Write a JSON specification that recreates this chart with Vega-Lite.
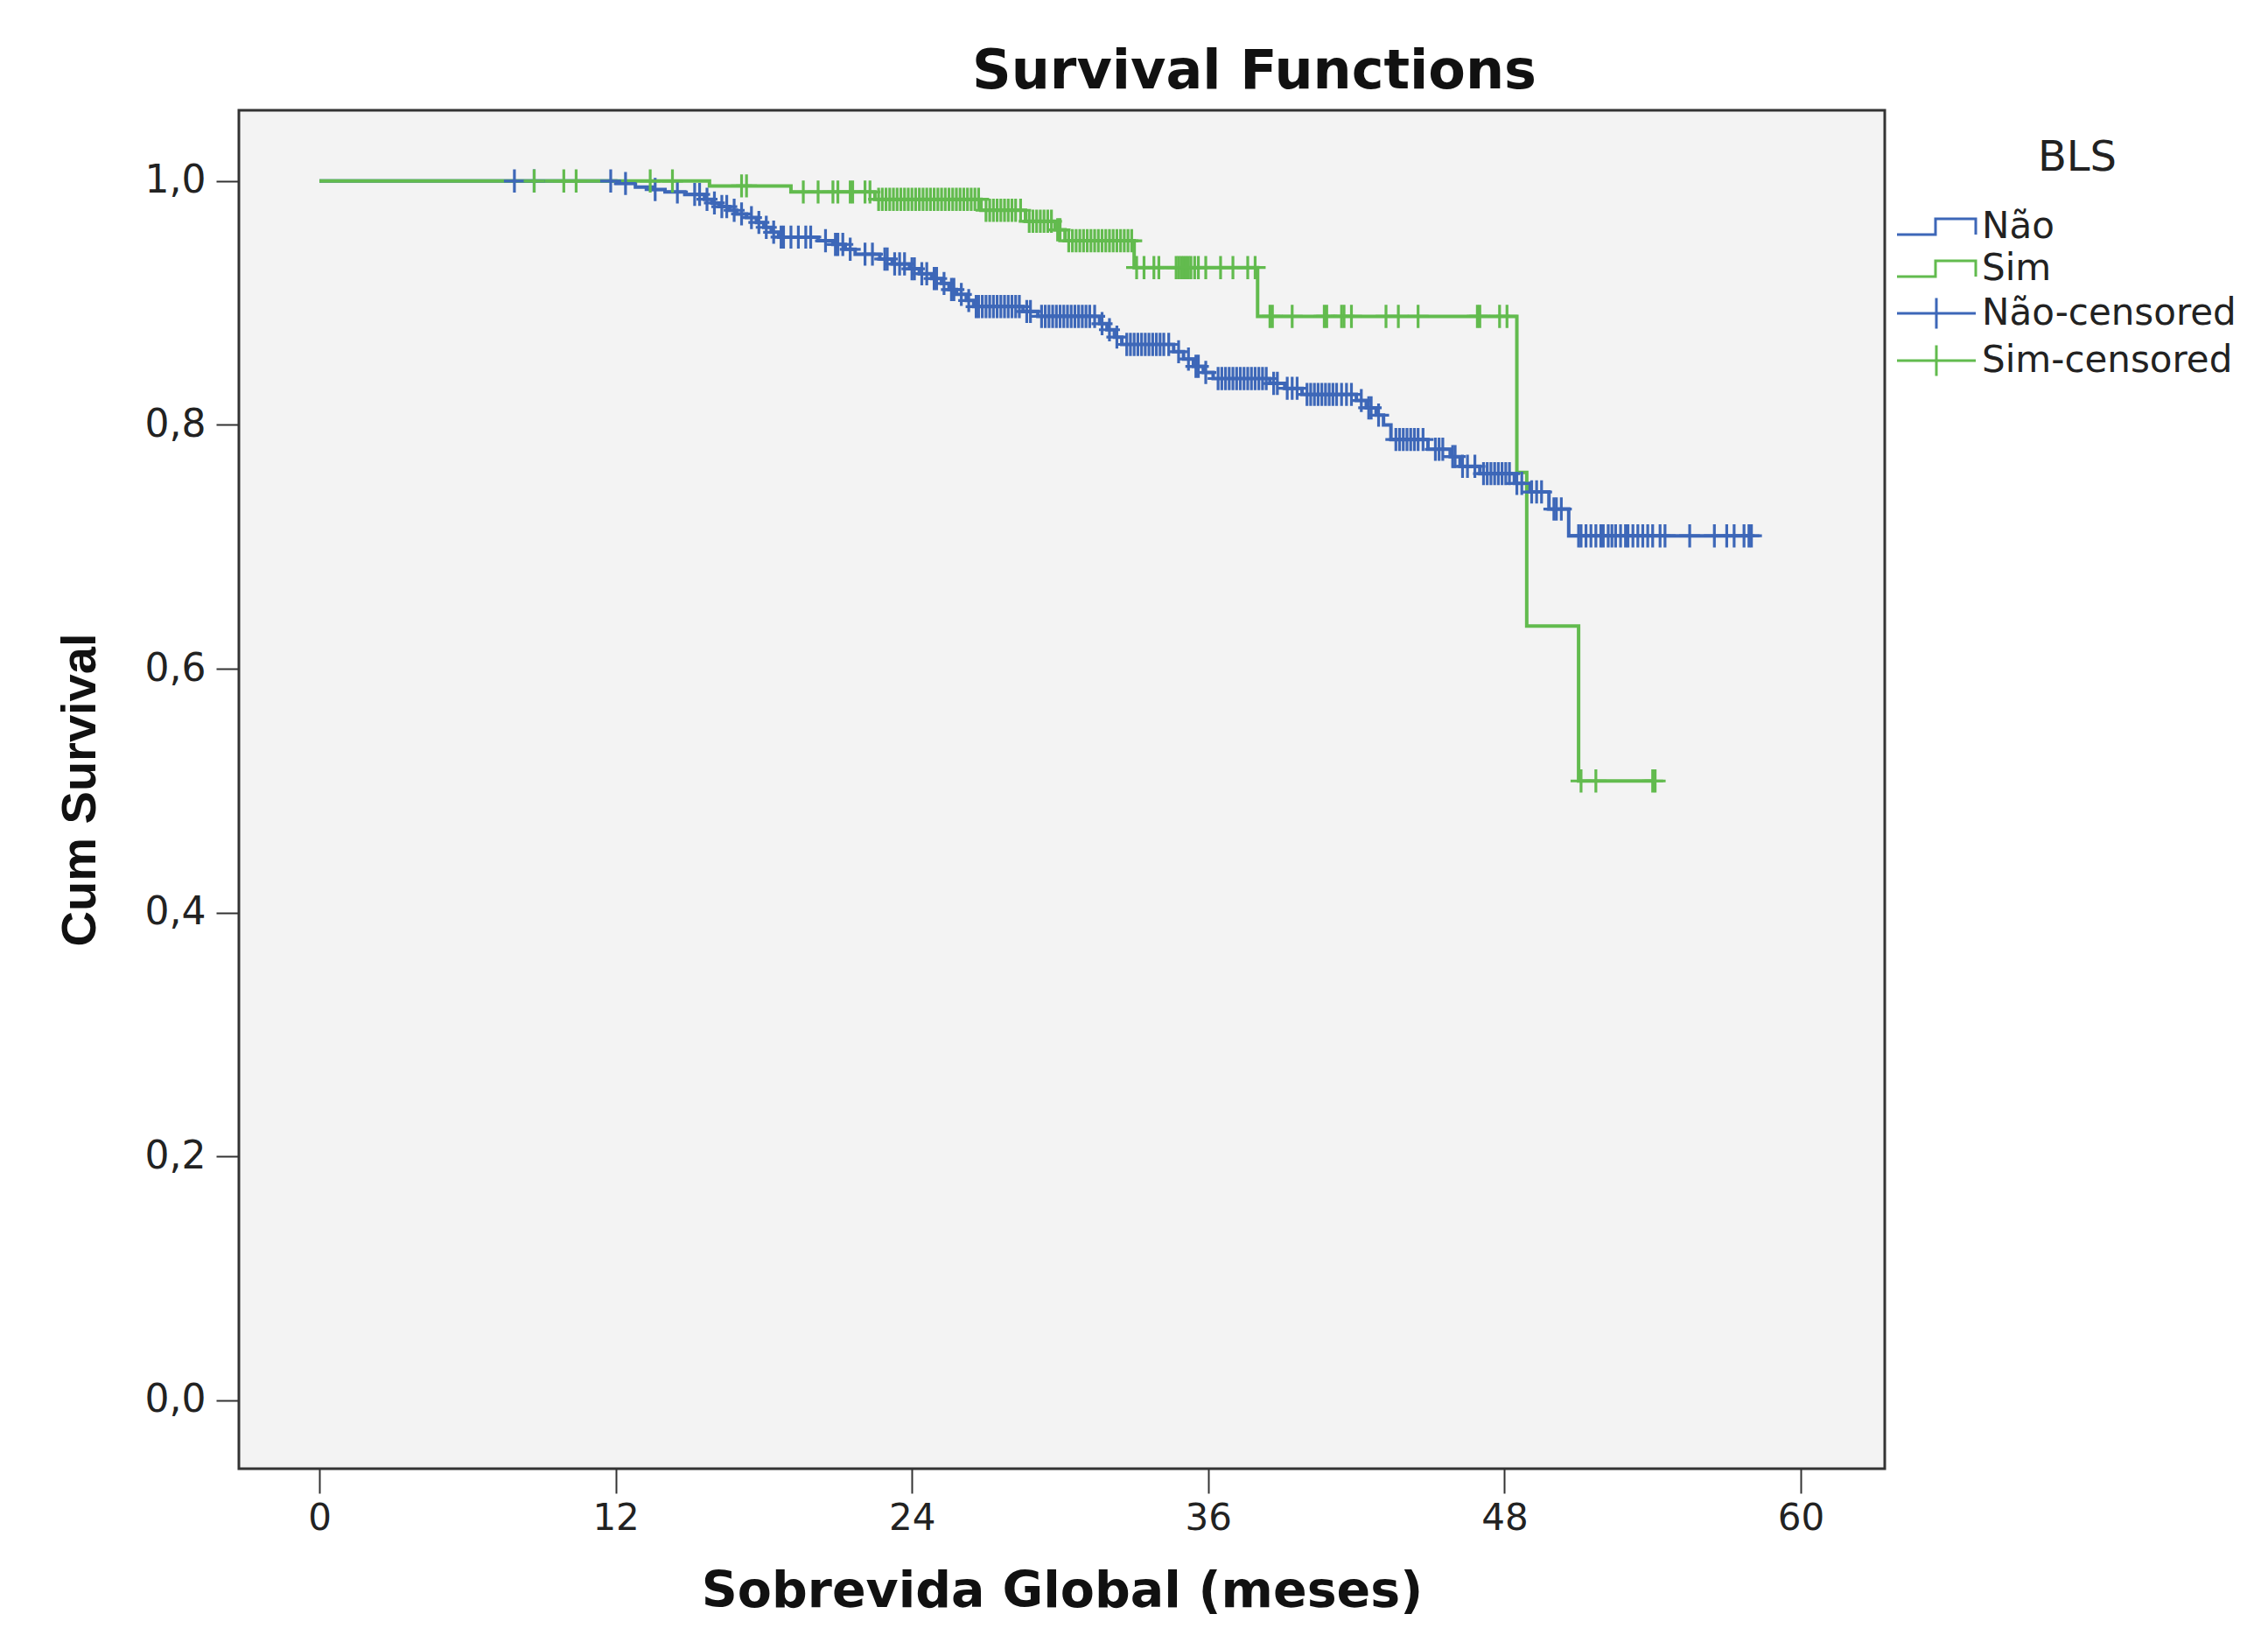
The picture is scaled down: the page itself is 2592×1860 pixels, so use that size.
{
  "$schema": "https://vega.github.io/schema/vega-lite/v6.json",
  "width": 1881,
  "height": 1552,
  "autosize": {"type": "none"},
  "padding": {"left": 273, "top": 126, "right": 438, "bottom": 182},
  "background": "white",
  "config": {
    "font": "DejaVu Sans",
    "view": {"fill": "#F3F3F3", "stroke": "#333333", "strokeWidth": 3}
  },
  "title": {
    "text": "Survival Functions",
    "frame": "group",
    "anchor": "middle",
    "dx": 220,
    "offset": 12,
    "fontSize": 62,
    "fontWeight": "bold",
    "color": "#111111",
    "font": "DejaVu Sans"
  },
  "datasets": {
    "curves": [
      {"grp": "Não", "t": 0, "s": 1.0},
      {"grp": "Não", "t": 12.0, "s": 0.998},
      {"grp": "Não", "t": 12.8, "s": 0.995},
      {"grp": "Não", "t": 13.5, "s": 0.993},
      {"grp": "Não", "t": 14.0, "s": 0.991},
      {"grp": "Não", "t": 14.8, "s": 0.989},
      {"grp": "Não", "t": 15.6, "s": 0.985},
      {"grp": "Não", "t": 15.9, "s": 0.982},
      {"grp": "Não", "t": 16.2, "s": 0.979},
      {"grp": "Não", "t": 16.6, "s": 0.976},
      {"grp": "Não", "t": 16.9, "s": 0.973},
      {"grp": "Não", "t": 17.3, "s": 0.970},
      {"grp": "Não", "t": 17.7, "s": 0.966},
      {"grp": "Não", "t": 18.0, "s": 0.962},
      {"grp": "Não", "t": 18.3, "s": 0.958},
      {"grp": "Não", "t": 18.6, "s": 0.954},
      {"grp": "Não", "t": 20.2, "s": 0.951},
      {"grp": "Não", "t": 20.8, "s": 0.948},
      {"grp": "Não", "t": 21.3, "s": 0.944},
      {"grp": "Não", "t": 21.7, "s": 0.940},
      {"grp": "Não", "t": 22.7, "s": 0.936},
      {"grp": "Não", "t": 23.2, "s": 0.932},
      {"grp": "Não", "t": 23.9, "s": 0.928},
      {"grp": "Não", "t": 24.3, "s": 0.924},
      {"grp": "Não", "t": 24.8, "s": 0.920},
      {"grp": "Não", "t": 25.2, "s": 0.916},
      {"grp": "Não", "t": 25.5, "s": 0.911},
      {"grp": "Não", "t": 25.8, "s": 0.907},
      {"grp": "Não", "t": 26.2, "s": 0.902},
      {"grp": "Não", "t": 26.5, "s": 0.897},
      {"grp": "Não", "t": 28.5, "s": 0.893},
      {"grp": "Não", "t": 29.1, "s": 0.889},
      {"grp": "Não", "t": 31.6, "s": 0.883},
      {"grp": "Não", "t": 31.9, "s": 0.878},
      {"grp": "Não", "t": 32.2, "s": 0.872},
      {"grp": "Não", "t": 32.5, "s": 0.866},
      {"grp": "Não", "t": 34.6, "s": 0.860},
      {"grp": "Não", "t": 35.0, "s": 0.854},
      {"grp": "Não", "t": 35.4, "s": 0.848},
      {"grp": "Não", "t": 35.8, "s": 0.843},
      {"grp": "Não", "t": 36.2, "s": 0.838},
      {"grp": "Não", "t": 38.5, "s": 0.834},
      {"grp": "Não", "t": 39.1, "s": 0.830},
      {"grp": "Não", "t": 39.8, "s": 0.825},
      {"grp": "Não", "t": 42.0, "s": 0.820},
      {"grp": "Não", "t": 42.4, "s": 0.814},
      {"grp": "Não", "t": 42.8, "s": 0.808},
      {"grp": "Não", "t": 43.1, "s": 0.800},
      {"grp": "Não", "t": 43.4, "s": 0.788},
      {"grp": "Não", "t": 44.9, "s": 0.780},
      {"grp": "Não", "t": 45.8, "s": 0.774},
      {"grp": "Não", "t": 46.2, "s": 0.766},
      {"grp": "Não", "t": 47.0, "s": 0.760},
      {"grp": "Não", "t": 48.4, "s": 0.752},
      {"grp": "Não", "t": 49.0, "s": 0.745},
      {"grp": "Não", "t": 49.8, "s": 0.731},
      {"grp": "Não", "t": 50.6, "s": 0.709},
      {"grp": "Não", "t": 58.0, "s": 0.709},
      {"grp": "Sim", "t": 0, "s": 1.0},
      {"grp": "Sim", "t": 15.8, "s": 0.996},
      {"grp": "Sim", "t": 19.1, "s": 0.991},
      {"grp": "Sim", "t": 22.5, "s": 0.985},
      {"grp": "Sim", "t": 26.8, "s": 0.976},
      {"grp": "Sim", "t": 28.6, "s": 0.967},
      {"grp": "Sim", "t": 29.8, "s": 0.960},
      {"grp": "Sim", "t": 30.2, "s": 0.951},
      {"grp": "Sim", "t": 33.0, "s": 0.929},
      {"grp": "Sim", "t": 38.0, "s": 0.889},
      {"grp": "Sim", "t": 48.5, "s": 0.761},
      {"grp": "Sim", "t": 48.9, "s": 0.635},
      {"grp": "Sim", "t": 51.0, "s": 0.508},
      {"grp": "Sim", "t": 54.1, "s": 0.508}
    ],
    "cens": [
      {"grp": "Não-censored", "t": 7.9, "s": 1.0},
      {"grp": "Não-censored", "t": 8.7, "s": 1.0},
      {"grp": "Não-censored", "t": 11.8, "s": 1.0},
      {"grp": "Não-censored", "t": 12.4, "s": 0.998},
      {"grp": "Não-censored", "t": 13.6, "s": 0.993},
      {"grp": "Não-censored", "t": 14.5, "s": 0.991},
      {"grp": "Não-censored", "t": 15.2, "s": 0.989},
      {"grp": "Não-censored", "t": 15.4, "s": 0.989},
      {"grp": "Não-censored", "t": 15.7, "s": 0.985},
      {"grp": "Não-censored", "t": 16.0, "s": 0.982},
      {"grp": "Não-censored", "t": 16.3, "s": 0.979},
      {"grp": "Não-censored", "t": 16.5, "s": 0.979},
      {"grp": "Não-censored", "t": 16.8, "s": 0.976},
      {"grp": "Não-censored", "t": 17.1, "s": 0.973},
      {"grp": "Não-censored", "t": 17.5, "s": 0.970},
      {"grp": "Não-censored", "t": 17.8, "s": 0.966},
      {"grp": "Não-censored", "t": 18.1, "s": 0.962},
      {"grp": "Não-censored", "t": 18.4, "s": 0.958},
      {"grp": "Não-censored", "t": 18.7, "s": 0.954},
      {"grp": "Não-censored", "t": 18.8, "s": 0.954},
      {"grp": "Não-censored", "t": 19.1, "s": 0.954},
      {"grp": "Não-censored", "t": 19.4, "s": 0.954},
      {"grp": "Não-censored", "t": 19.7, "s": 0.954},
      {"grp": "Não-censored", "t": 19.9, "s": 0.954},
      {"grp": "Não-censored", "t": 20.5, "s": 0.951},
      {"grp": "Não-censored", "t": 20.9, "s": 0.948},
      {"grp": "Não-censored", "t": 21.0, "s": 0.948},
      {"grp": "Não-censored", "t": 21.2, "s": 0.948},
      {"grp": "Não-censored", "t": 21.5, "s": 0.944},
      {"grp": "Não-censored", "t": 22.1, "s": 0.940},
      {"grp": "Não-censored", "t": 22.4, "s": 0.940},
      {"grp": "Não-censored", "t": 22.9, "s": 0.936},
      {"grp": "Não-censored", "t": 23.0, "s": 0.936},
      {"grp": "Não-censored", "t": 23.3, "s": 0.932},
      {"grp": "Não-censored", "t": 23.5, "s": 0.932},
      {"grp": "Não-censored", "t": 23.7, "s": 0.932},
      {"grp": "Não-censored", "t": 24.0, "s": 0.928},
      {"grp": "Não-censored", "t": 24.1, "s": 0.928},
      {"grp": "Não-censored", "t": 24.4, "s": 0.924},
      {"grp": "Não-censored", "t": 24.6, "s": 0.924},
      {"grp": "Não-censored", "t": 24.9, "s": 0.920},
      {"grp": "Não-censored", "t": 25.0, "s": 0.920},
      {"grp": "Não-censored", "t": 25.3, "s": 0.916},
      {"grp": "Não-censored", "t": 25.6, "s": 0.911},
      {"grp": "Não-censored", "t": 25.7, "s": 0.911},
      {"grp": "Não-censored", "t": 26.0, "s": 0.907},
      {"grp": "Não-censored", "t": 26.3, "s": 0.902},
      {"grp": "Não-censored", "t": 26.6, "s": 0.897},
      {"grp": "Não-censored", "t": 26.7, "s": 0.897},
      {"grp": "Não-censored", "t": 26.85, "s": 0.897},
      {"grp": "Não-censored", "t": 27.0, "s": 0.897},
      {"grp": "Não-censored", "t": 27.15, "s": 0.897},
      {"grp": "Não-censored", "t": 27.3, "s": 0.897},
      {"grp": "Não-censored", "t": 27.45, "s": 0.897},
      {"grp": "Não-censored", "t": 27.6, "s": 0.897},
      {"grp": "Não-censored", "t": 27.75, "s": 0.897},
      {"grp": "Não-censored", "t": 27.9, "s": 0.897},
      {"grp": "Não-censored", "t": 28.05, "s": 0.897},
      {"grp": "Não-censored", "t": 28.2, "s": 0.897},
      {"grp": "Não-censored", "t": 28.35, "s": 0.897},
      {"grp": "Não-censored", "t": 28.65, "s": 0.893},
      {"grp": "Não-censored", "t": 28.8, "s": 0.893},
      {"grp": "Não-censored", "t": 29.25, "s": 0.889},
      {"grp": "Não-censored", "t": 29.4, "s": 0.889},
      {"grp": "Não-censored", "t": 29.55, "s": 0.889},
      {"grp": "Não-censored", "t": 29.7, "s": 0.889},
      {"grp": "Não-censored", "t": 29.85, "s": 0.889},
      {"grp": "Não-censored", "t": 30.0, "s": 0.889},
      {"grp": "Não-censored", "t": 30.15, "s": 0.889},
      {"grp": "Não-censored", "t": 30.3, "s": 0.889},
      {"grp": "Não-censored", "t": 30.45, "s": 0.889},
      {"grp": "Não-censored", "t": 30.6, "s": 0.889},
      {"grp": "Não-censored", "t": 30.75, "s": 0.889},
      {"grp": "Não-censored", "t": 30.9, "s": 0.889},
      {"grp": "Não-censored", "t": 31.05, "s": 0.889},
      {"grp": "Não-censored", "t": 31.2, "s": 0.889},
      {"grp": "Não-censored", "t": 31.4, "s": 0.889},
      {"grp": "Não-censored", "t": 31.7, "s": 0.883},
      {"grp": "Não-censored", "t": 32.0, "s": 0.878},
      {"grp": "Não-censored", "t": 32.3, "s": 0.872},
      {"grp": "Não-censored", "t": 32.7, "s": 0.866},
      {"grp": "Não-censored", "t": 32.85, "s": 0.866},
      {"grp": "Não-censored", "t": 33.0, "s": 0.866},
      {"grp": "Não-censored", "t": 33.15, "s": 0.866},
      {"grp": "Não-censored", "t": 33.3, "s": 0.866},
      {"grp": "Não-censored", "t": 33.45, "s": 0.866},
      {"grp": "Não-censored", "t": 33.6, "s": 0.866},
      {"grp": "Não-censored", "t": 33.75, "s": 0.866},
      {"grp": "Não-censored", "t": 33.9, "s": 0.866},
      {"grp": "Não-censored", "t": 34.05, "s": 0.866},
      {"grp": "Não-censored", "t": 34.2, "s": 0.866},
      {"grp": "Não-censored", "t": 34.4, "s": 0.866},
      {"grp": "Não-censored", "t": 34.8, "s": 0.860},
      {"grp": "Não-censored", "t": 35.2, "s": 0.854},
      {"grp": "Não-censored", "t": 35.5, "s": 0.848},
      {"grp": "Não-censored", "t": 35.6, "s": 0.848},
      {"grp": "Não-censored", "t": 35.9, "s": 0.843},
      {"grp": "Não-censored", "t": 36.4, "s": 0.838},
      {"grp": "Não-censored", "t": 36.55, "s": 0.838},
      {"grp": "Não-censored", "t": 36.7, "s": 0.838},
      {"grp": "Não-censored", "t": 36.85, "s": 0.838},
      {"grp": "Não-censored", "t": 37.0, "s": 0.838},
      {"grp": "Não-censored", "t": 37.15, "s": 0.838},
      {"grp": "Não-censored", "t": 37.3, "s": 0.838},
      {"grp": "Não-censored", "t": 37.45, "s": 0.838},
      {"grp": "Não-censored", "t": 37.6, "s": 0.838},
      {"grp": "Não-censored", "t": 37.75, "s": 0.838},
      {"grp": "Não-censored", "t": 37.9, "s": 0.838},
      {"grp": "Não-censored", "t": 38.05, "s": 0.838},
      {"grp": "Não-censored", "t": 38.2, "s": 0.838},
      {"grp": "Não-censored", "t": 38.35, "s": 0.838},
      {"grp": "Não-censored", "t": 38.65, "s": 0.834},
      {"grp": "Não-censored", "t": 38.8, "s": 0.834},
      {"grp": "Não-censored", "t": 39.2, "s": 0.830},
      {"grp": "Não-censored", "t": 39.4, "s": 0.830},
      {"grp": "Não-censored", "t": 39.6, "s": 0.830},
      {"grp": "Não-censored", "t": 40.0, "s": 0.825},
      {"grp": "Não-censored", "t": 40.15, "s": 0.825},
      {"grp": "Não-censored", "t": 40.3, "s": 0.825},
      {"grp": "Não-censored", "t": 40.45, "s": 0.825},
      {"grp": "Não-censored", "t": 40.6, "s": 0.825},
      {"grp": "Não-censored", "t": 40.75, "s": 0.825},
      {"grp": "Não-censored", "t": 40.9, "s": 0.825},
      {"grp": "Não-censored", "t": 41.05, "s": 0.825},
      {"grp": "Não-censored", "t": 41.2, "s": 0.825},
      {"grp": "Não-censored", "t": 41.4, "s": 0.825},
      {"grp": "Não-censored", "t": 41.6, "s": 0.825},
      {"grp": "Não-censored", "t": 41.8, "s": 0.825},
      {"grp": "Não-censored", "t": 42.2, "s": 0.820},
      {"grp": "Não-censored", "t": 42.5, "s": 0.814},
      {"grp": "Não-censored", "t": 42.6, "s": 0.814},
      {"grp": "Não-censored", "t": 42.9, "s": 0.808},
      {"grp": "Não-censored", "t": 43.6, "s": 0.788},
      {"grp": "Não-censored", "t": 43.75, "s": 0.788},
      {"grp": "Não-censored", "t": 43.9, "s": 0.788},
      {"grp": "Não-censored", "t": 44.05, "s": 0.788},
      {"grp": "Não-censored", "t": 44.2, "s": 0.788},
      {"grp": "Não-censored", "t": 44.35, "s": 0.788},
      {"grp": "Não-censored", "t": 44.5, "s": 0.788},
      {"grp": "Não-censored", "t": 44.7, "s": 0.788},
      {"grp": "Não-censored", "t": 45.2, "s": 0.780},
      {"grp": "Não-censored", "t": 45.35, "s": 0.780},
      {"grp": "Não-censored", "t": 45.5, "s": 0.780},
      {"grp": "Não-censored", "t": 45.9, "s": 0.774},
      {"grp": "Não-censored", "t": 46.0, "s": 0.774},
      {"grp": "Não-censored", "t": 46.3, "s": 0.766},
      {"grp": "Não-censored", "t": 46.5, "s": 0.766},
      {"grp": "Não-censored", "t": 46.8, "s": 0.766},
      {"grp": "Não-censored", "t": 47.15, "s": 0.760},
      {"grp": "Não-censored", "t": 47.3, "s": 0.760},
      {"grp": "Não-censored", "t": 47.45, "s": 0.760},
      {"grp": "Não-censored", "t": 47.6, "s": 0.760},
      {"grp": "Não-censored", "t": 47.75, "s": 0.760},
      {"grp": "Não-censored", "t": 47.9, "s": 0.760},
      {"grp": "Não-censored", "t": 48.05, "s": 0.760},
      {"grp": "Não-censored", "t": 48.2, "s": 0.760},
      {"grp": "Não-censored", "t": 48.5, "s": 0.752},
      {"grp": "Não-censored", "t": 48.7, "s": 0.752},
      {"grp": "Não-censored", "t": 49.1, "s": 0.745},
      {"grp": "Não-censored", "t": 49.3, "s": 0.745},
      {"grp": "Não-censored", "t": 49.5, "s": 0.745},
      {"grp": "Não-censored", "t": 50.0, "s": 0.731},
      {"grp": "Não-censored", "t": 50.1, "s": 0.731},
      {"grp": "Não-censored", "t": 50.3, "s": 0.731},
      {"grp": "Não-censored", "t": 51.0, "s": 0.709},
      {"grp": "Não-censored", "t": 51.1, "s": 0.709},
      {"grp": "Não-censored", "t": 51.3, "s": 0.709},
      {"grp": "Não-censored", "t": 51.5, "s": 0.709},
      {"grp": "Não-censored", "t": 51.7, "s": 0.709},
      {"grp": "Não-censored", "t": 51.9, "s": 0.709},
      {"grp": "Não-censored", "t": 52.0, "s": 0.709},
      {"grp": "Não-censored", "t": 52.2, "s": 0.709},
      {"grp": "Não-censored", "t": 52.35, "s": 0.709},
      {"grp": "Não-censored", "t": 52.5, "s": 0.709},
      {"grp": "Não-censored", "t": 52.7, "s": 0.709},
      {"grp": "Não-censored", "t": 52.9, "s": 0.709},
      {"grp": "Não-censored", "t": 53.0, "s": 0.709},
      {"grp": "Não-censored", "t": 53.2, "s": 0.709},
      {"grp": "Não-censored", "t": 53.4, "s": 0.709},
      {"grp": "Não-censored", "t": 53.6, "s": 0.709},
      {"grp": "Não-censored", "t": 53.8, "s": 0.709},
      {"grp": "Não-censored", "t": 54.0, "s": 0.709},
      {"grp": "Não-censored", "t": 54.3, "s": 0.709},
      {"grp": "Não-censored", "t": 54.5, "s": 0.709},
      {"grp": "Não-censored", "t": 55.5, "s": 0.709},
      {"grp": "Não-censored", "t": 56.5, "s": 0.709},
      {"grp": "Não-censored", "t": 57.0, "s": 0.709},
      {"grp": "Não-censored", "t": 57.3, "s": 0.709},
      {"grp": "Não-censored", "t": 57.7, "s": 0.709},
      {"grp": "Não-censored", "t": 57.9, "s": 0.709},
      {"grp": "Não-censored", "t": 58.0, "s": 0.709},
      {"grp": "Sim-censored", "t": 8.7, "s": 1.0},
      {"grp": "Sim-censored", "t": 9.9, "s": 1.0},
      {"grp": "Sim-censored", "t": 10.4, "s": 1.0},
      {"grp": "Sim-censored", "t": 13.4, "s": 1.0},
      {"grp": "Sim-censored", "t": 14.3, "s": 1.0},
      {"grp": "Sim-censored", "t": 17.1, "s": 0.996},
      {"grp": "Sim-censored", "t": 17.3, "s": 0.996},
      {"grp": "Sim-censored", "t": 19.6, "s": 0.991},
      {"grp": "Sim-censored", "t": 20.2, "s": 0.991},
      {"grp": "Sim-censored", "t": 20.8, "s": 0.991},
      {"grp": "Sim-censored", "t": 21.0, "s": 0.991},
      {"grp": "Sim-censored", "t": 21.5, "s": 0.991},
      {"grp": "Sim-censored", "t": 21.6, "s": 0.991},
      {"grp": "Sim-censored", "t": 22.1, "s": 0.991},
      {"grp": "Sim-censored", "t": 22.3, "s": 0.991},
      {"grp": "Sim-censored", "t": 22.65, "s": 0.985},
      {"grp": "Sim-censored", "t": 22.8, "s": 0.985},
      {"grp": "Sim-censored", "t": 22.95, "s": 0.985},
      {"grp": "Sim-censored", "t": 23.1, "s": 0.985},
      {"grp": "Sim-censored", "t": 23.25, "s": 0.985},
      {"grp": "Sim-censored", "t": 23.4, "s": 0.985},
      {"grp": "Sim-censored", "t": 23.55, "s": 0.985},
      {"grp": "Sim-censored", "t": 23.7, "s": 0.985},
      {"grp": "Sim-censored", "t": 23.85, "s": 0.985},
      {"grp": "Sim-censored", "t": 24.0, "s": 0.985},
      {"grp": "Sim-censored", "t": 24.15, "s": 0.985},
      {"grp": "Sim-censored", "t": 24.3, "s": 0.985},
      {"grp": "Sim-censored", "t": 24.45, "s": 0.985},
      {"grp": "Sim-censored", "t": 24.6, "s": 0.985},
      {"grp": "Sim-censored", "t": 24.75, "s": 0.985},
      {"grp": "Sim-censored", "t": 24.9, "s": 0.985},
      {"grp": "Sim-censored", "t": 25.05, "s": 0.985},
      {"grp": "Sim-censored", "t": 25.2, "s": 0.985},
      {"grp": "Sim-censored", "t": 25.35, "s": 0.985},
      {"grp": "Sim-censored", "t": 25.5, "s": 0.985},
      {"grp": "Sim-censored", "t": 25.65, "s": 0.985},
      {"grp": "Sim-censored", "t": 25.8, "s": 0.985},
      {"grp": "Sim-censored", "t": 25.95, "s": 0.985},
      {"grp": "Sim-censored", "t": 26.1, "s": 0.985},
      {"grp": "Sim-censored", "t": 26.25, "s": 0.985},
      {"grp": "Sim-censored", "t": 26.4, "s": 0.985},
      {"grp": "Sim-censored", "t": 26.55, "s": 0.985},
      {"grp": "Sim-censored", "t": 26.7, "s": 0.985},
      {"grp": "Sim-censored", "t": 27.0, "s": 0.976},
      {"grp": "Sim-censored", "t": 27.15, "s": 0.976},
      {"grp": "Sim-censored", "t": 27.3, "s": 0.976},
      {"grp": "Sim-censored", "t": 27.45, "s": 0.976},
      {"grp": "Sim-censored", "t": 27.6, "s": 0.976},
      {"grp": "Sim-censored", "t": 27.75, "s": 0.976},
      {"grp": "Sim-censored", "t": 27.9, "s": 0.976},
      {"grp": "Sim-censored", "t": 28.05, "s": 0.976},
      {"grp": "Sim-censored", "t": 28.2, "s": 0.976},
      {"grp": "Sim-censored", "t": 28.4, "s": 0.976},
      {"grp": "Sim-censored", "t": 28.75, "s": 0.967},
      {"grp": "Sim-censored", "t": 28.9, "s": 0.967},
      {"grp": "Sim-censored", "t": 29.05, "s": 0.967},
      {"grp": "Sim-censored", "t": 29.2, "s": 0.967},
      {"grp": "Sim-censored", "t": 29.35, "s": 0.967},
      {"grp": "Sim-censored", "t": 29.5, "s": 0.967},
      {"grp": "Sim-censored", "t": 29.65, "s": 0.967},
      {"grp": "Sim-censored", "t": 29.9, "s": 0.960},
      {"grp": "Sim-censored", "t": 30.0, "s": 0.960},
      {"grp": "Sim-censored", "t": 30.35, "s": 0.951},
      {"grp": "Sim-censored", "t": 30.5, "s": 0.951},
      {"grp": "Sim-censored", "t": 30.65, "s": 0.951},
      {"grp": "Sim-censored", "t": 30.8, "s": 0.951},
      {"grp": "Sim-censored", "t": 30.95, "s": 0.951},
      {"grp": "Sim-censored", "t": 31.1, "s": 0.951},
      {"grp": "Sim-censored", "t": 31.25, "s": 0.951},
      {"grp": "Sim-censored", "t": 31.4, "s": 0.951},
      {"grp": "Sim-censored", "t": 31.55, "s": 0.951},
      {"grp": "Sim-censored", "t": 31.7, "s": 0.951},
      {"grp": "Sim-censored", "t": 31.85, "s": 0.951},
      {"grp": "Sim-censored", "t": 32.0, "s": 0.951},
      {"grp": "Sim-censored", "t": 32.15, "s": 0.951},
      {"grp": "Sim-censored", "t": 32.3, "s": 0.951},
      {"grp": "Sim-censored", "t": 32.45, "s": 0.951},
      {"grp": "Sim-censored", "t": 32.6, "s": 0.951},
      {"grp": "Sim-censored", "t": 32.75, "s": 0.951},
      {"grp": "Sim-censored", "t": 32.9, "s": 0.951},
      {"grp": "Sim-censored", "t": 33.1, "s": 0.929},
      {"grp": "Sim-censored", "t": 33.4, "s": 0.929},
      {"grp": "Sim-censored", "t": 33.8, "s": 0.929},
      {"grp": "Sim-censored", "t": 34.0, "s": 0.929},
      {"grp": "Sim-censored", "t": 34.7, "s": 0.929},
      {"grp": "Sim-censored", "t": 34.8, "s": 0.929},
      {"grp": "Sim-censored", "t": 34.9, "s": 0.929},
      {"grp": "Sim-censored", "t": 35.0, "s": 0.929},
      {"grp": "Sim-censored", "t": 35.1, "s": 0.929},
      {"grp": "Sim-censored", "t": 35.2, "s": 0.929},
      {"grp": "Sim-censored", "t": 35.3, "s": 0.929},
      {"grp": "Sim-censored", "t": 35.45, "s": 0.929},
      {"grp": "Sim-censored", "t": 35.6, "s": 0.929},
      {"grp": "Sim-censored", "t": 35.9, "s": 0.929},
      {"grp": "Sim-censored", "t": 36.5, "s": 0.929},
      {"grp": "Sim-censored", "t": 37.0, "s": 0.929},
      {"grp": "Sim-censored", "t": 37.6, "s": 0.929},
      {"grp": "Sim-censored", "t": 37.9, "s": 0.929},
      {"grp": "Sim-censored", "t": 38.5, "s": 0.889},
      {"grp": "Sim-censored", "t": 38.6, "s": 0.889},
      {"grp": "Sim-censored", "t": 39.4, "s": 0.889},
      {"grp": "Sim-censored", "t": 40.7, "s": 0.889},
      {"grp": "Sim-censored", "t": 40.8, "s": 0.889},
      {"grp": "Sim-censored", "t": 41.4, "s": 0.889},
      {"grp": "Sim-censored", "t": 41.5, "s": 0.889},
      {"grp": "Sim-censored", "t": 41.8, "s": 0.889},
      {"grp": "Sim-censored", "t": 43.2, "s": 0.889},
      {"grp": "Sim-censored", "t": 43.7, "s": 0.889},
      {"grp": "Sim-censored", "t": 44.5, "s": 0.889},
      {"grp": "Sim-censored", "t": 46.9, "s": 0.889},
      {"grp": "Sim-censored", "t": 47.0, "s": 0.889},
      {"grp": "Sim-censored", "t": 47.8, "s": 0.889},
      {"grp": "Sim-censored", "t": 48.1, "s": 0.889},
      {"grp": "Sim-censored", "t": 51.1, "s": 0.508},
      {"grp": "Sim-censored", "t": 51.7, "s": 0.508},
      {"grp": "Sim-censored", "t": 54.0, "s": 0.508},
      {"grp": "Sim-censored", "t": 54.1, "s": 0.508}
    ]
  },
  "encoding": {
    "x": {
      "field": "t",
      "type": "quantitative",
      "scale": {"domain": [-3.26, 63.4], "nice": false, "zero": false},
      "axis": {
        "values": [0, 12, 24, 36, 48, 60],
        "title": "Sobrevida Global (meses)",
        "grid": false,
        "domain": false,
        "tickSize": 28,
        "tickWidth": 2,
        "tickColor": "#333333",
        "labelFontSize": 42,
        "labelPadding": 8,
        "labelColor": "#222222",
        "labelFont": "DejaVu Sans",
        "titleFontSize": 57,
        "titleFontWeight": "bold",
        "titleColor": "#111111",
        "titleFont": "DejaVu Sans",
        "titleY": 140,
        "titleBaseline": "middle"
      }
    },
    "y": {
      "field": "s",
      "type": "quantitative",
      "scale": {"domain": [-0.056, 1.058], "nice": false, "zero": false},
      "axis": {
        "values": [0, 0.2, 0.4, 0.6, 0.8, 1.0],
        "labelExpr": "replace(format(datum.value, '.1f'), '.', ',')",
        "title": "Cum Survival",
        "grid": false,
        "domain": false,
        "tickSize": 26,
        "tickWidth": 2,
        "tickColor": "#333333",
        "labelFontSize": 44,
        "labelPadding": 12,
        "labelColor": "#222222",
        "labelFont": "DejaVu Sans",
        "titleFontSize": 56,
        "titleFontWeight": "bold",
        "titleColor": "#111111",
        "titleFont": "Liberation Sans",
        "titleX": -182,
        "titleY": 776,
        "titleBaseline": "middle"
      }
    },
    "color": {
      "field": "grp",
      "type": "nominal",
      "scale": {
        "domain": ["Não", "Sim", "Não-censored", "Sim-censored"],
        "range": ["#3D67B8", "#62BB4E", "#3D67B8", "#62BB4E"]
      },
      "legend": {
        "title": "BLS",
        "orient": "none",
        "legendX": 1919,
        "legendY": 31,
        "padding": 0,
        "titleFontSize": 48,
        "titleFontWeight": "normal",
        "titleFont": "DejaVu Sans",
        "titleColor": "#222222",
        "titleAnchor": "middle",
        "titlePadding": 33,
        "labelFontSize": 42,
        "labelFont": "DejaVu Sans",
        "labelColor": "#222222",
        "labelOffset": 31,
        "labelLimit": 1000,
        "symbolSize": 400,
        "symbolStrokeWidth": 3,
        "rowPadding": 6,
        "encode": {
          "symbols": {
            "update": {
              "shape": {"signal": "indexof(datum.value, 'censored') >= 0 ? 'M-4.5,0L4.5,0M0,-1.75L0,1.75' : 'M-4.5,0.9L-0.1,0.9L-0.1,-0.9L4.5,-0.9L4.5,0.9'"},
              "fill": {"value": "transparent"},
              "stroke": {"scale": "color", "field": "value"},
              "strokeWidth": {"value": 3}
            }
          }
        }
      }
    }
  },
  "layer": [
    {
      "data": {"name": "curves"},
      "mark": {"type": "line", "interpolate": "step-after", "strokeWidth": 4}
    },
    {
      "data": {"name": "cens"},
      "mark": {"type": "point", "shape": "M-1,0L1,0M0,-1.1L0,1.1", "filled": false, "size": 576, "strokeWidth": 3.2, "opacity": 1}
    }
  ]
}
